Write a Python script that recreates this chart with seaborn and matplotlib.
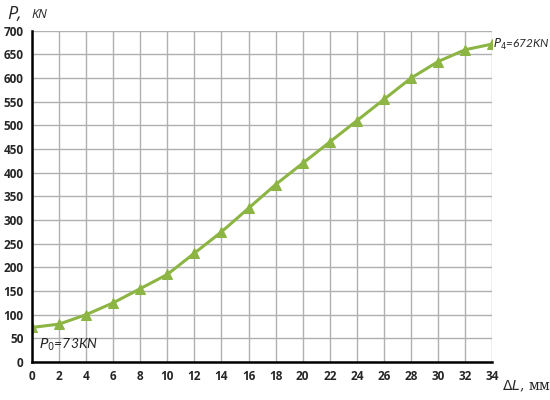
import seaborn as sns
import matplotlib.pyplot as plt
import pandas as pd
import numpy as np

# Data
elongation = [0, 2, 4, 6, 8, 10, 12, 14, 16, 18, 20, 22, 24, 26, 28, 30, 32, 34]
force = [73, 80, 100, 125, 155, 185, 230, 275, 325, 375, 420, 465, 510, 555, 600, 635, 660, 672]
x_ticks = list(range(0, 35, 2))
y_ticks = list(range(0, 701, 50))

df = pd.DataFrame({'dL': elongation, 'P': force})

sns.set_style("white")
plt.rcParams['font.family'] = ['Open Sans', 'DejaVu Sans']

fig = plt.figure(figsize=(5.5, 4), dpi=100)
ax = fig.add_axes([0.058, 0.095, 0.837, 0.828])

green = '#8cb543'
sns.lineplot(data=df, x='dL', y='P', ax=ax, color=green, linewidth=2.2,
             marker='^', markersize=7, markeredgecolor=green, markerfacecolor=green)

ax.set_xlim(0, 34)
ax.set_ylim(0, 700)
ax.set_xticks(x_ticks)
ax.set_yticks(y_ticks)
ax.grid(True, color='#b0b0b0', linewidth=1)
ax.set_axisbelow(True)
ax.set_xlabel('')
ax.set_ylabel('')

for side in ['top', 'right']:
    ax.spines[side].set_visible(False)
for side in ['left', 'bottom']:
    ax.spines[side].set_color('black')
    ax.spines[side].set_linewidth(1.8)

ax.tick_params(axis='x', direction='inout', length=6, width=1.5, labelsize=8.5, pad=3)
ax.tick_params(axis='y', direction='out', length=4, width=1.5, labelsize=8.5, pad=2)
for lbl in ax.get_xticklabels() + ax.get_yticklabels():
    lbl.set_fontweight('bold')

fig.text(0.013, 0.965, 'P,', fontsize=13, style='italic', va='center', ha='left')
fig.text(0.058, 0.965, 'KN', fontsize=9, style='italic', va='center', ha='left')
fig.text(0.912, 0.035, r'$\Delta L$, мм', fontsize=10, family='DejaVu Serif', va='center', ha='left')

ann_font = ['Lato', 'DejaVu Sans']
ax.text(0.5, 36, r'$P_0$=73KN', fontsize=10, style='italic', family=ann_font,
        va='center', ha='left')
ax.text(34.05, 672, r'$P_4$=672KN', fontsize=8.5, style='italic', family=ann_font,
        va='center', ha='left', clip_on=False)

plt.savefig('out.png', dpi=100)
